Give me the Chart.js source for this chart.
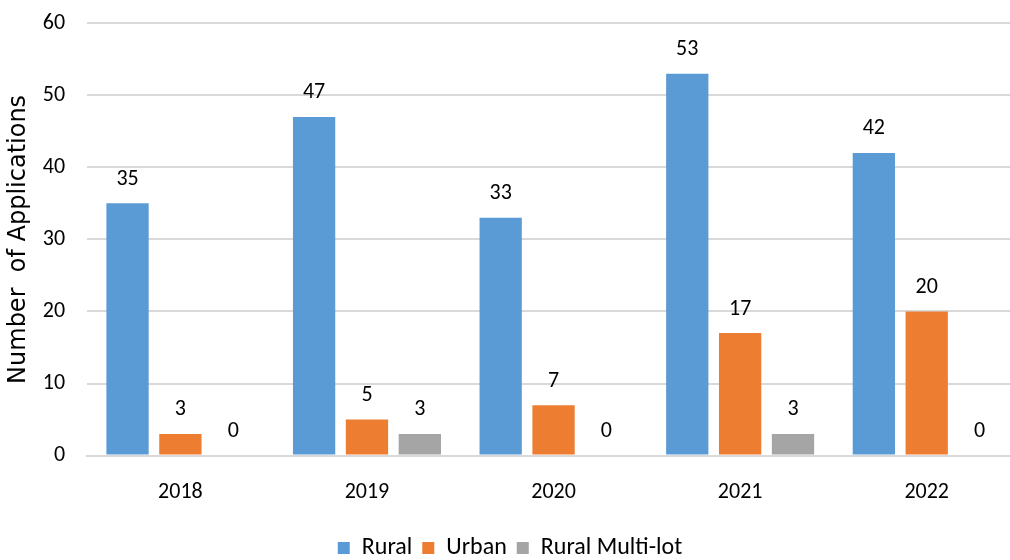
<!DOCTYPE html>
<html>
<head>
<meta charset="utf-8">
<script src="https://cdn.jsdelivr.net/npm/chart.js@4"></script>
<style>
  body { margin: 0; background: #fff; overflow: hidden; }
  #wrap { width: 1020px; height: 582px; margin-top: -12px; }
</style>
</head>
<body>
<div id="wrap"><canvas id="chart"></canvas></div>
<script>
const years = ['2018', '2019', '2020', '2021', '2022']
const rural = [35, 47, 33, 53, 42]
const urban = [3, 5, 7, 17, 20]
const ruralMultiLot = [0, 3, 0, 3, 0]

const fontFamily = "Carlito, 'Liberation Sans', sans-serif"

// value labels above each bar
const barLabels = {
  id: 'barLabels',
  afterDatasetsDraw(chart) {
    const ctx = chart.ctx
    ctx.save()
    ctx.font = '22px ' + fontFamily
    ctx.fillStyle = '#000'
    ctx.textAlign = 'center'
    ctx.textBaseline = 'bottom'
    chart.data.datasets.forEach((ds, i) => {
      chart.getDatasetMeta(i).data.forEach((bar, j) => {
        ctx.fillText(ds.data[j], bar.x, bar.y - 13)
      })
    })
    ctx.restore()
  },
}

new Chart(document.getElementById('chart'), {
  type: 'bar',
  data: {
    labels: years,
    datasets: [
      { label: 'Rural', data: rural, backgroundColor: '#5b9bd5' },
      { label: 'Urban', data: urban, backgroundColor: '#ed7d31' },
      { label: 'Rural Multi-lot', data: ruralMultiLot, backgroundColor: '#a5a5a5' },
    ],
  },
  options: {
    responsive: true,
    maintainAspectRatio: false,
    animation: false,
    categoryPercentage: 0.85,
    barPercentage: 0.8,
    layout: { padding: { top: 2, right: 0, left: 0, bottom: 0 } },
    plugins: {
      legend: {
        position: 'bottom',
        labels: {
          boxWidth: 12,
          boxHeight: 12,
          padding: 10,
          color: '#000',
          font: { size: 24, family: fontFamily },
        },
      },
      tooltip: { enabled: false },
    },
    scales: {
      x: {
        grid: { display: false },
        border: { color: '#d9d9d9', width: 2 },
        ticks: { color: '#000', padding: 16, font: { size: 22, family: fontFamily } },
        afterFit(scale) {
          scale.height += 4
        },
      },
      y: {
        min: 0,
        max: 60,
        ticks: { stepSize: 10, color: '#000', padding: 22, font: { size: 22, family: fontFamily } },
        grid: { color: '#d9d9d9', lineWidth: 2, drawTicks: false },
        border: { display: false },
        title: {
          display: true,
          text: 'Number  of Applications',
          color: '#000',
          padding: { top: 4, bottom: 0 },
          font: { size: 24, family: "'DejaVu Sans', sans-serif" },
        },
        afterFit(scale) {
          scale.width -= 12
        },
      },
    },
  },
  plugins: [barLabels],
})
</script>
</body>
</html>
